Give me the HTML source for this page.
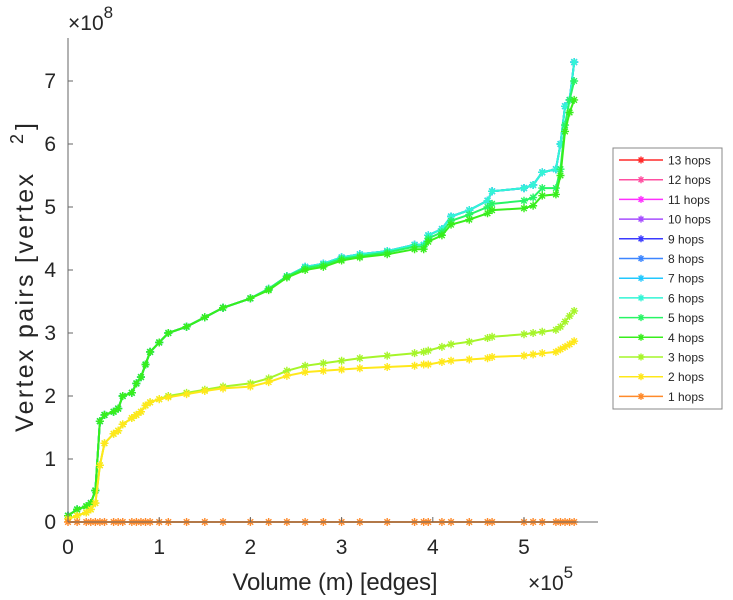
<!DOCTYPE html>
<html><head><meta charset="utf-8"><style>
html,body{margin:0;padding:0;background:#fff;}
svg{display:block;font-family:"Liberation Sans",sans-serif;}
</style></head><body>
<svg id="chart" width="733" height="600">
  <g id="plot"></g>
  <g id="axes"></g>
  <g id="legend"></g>
</svg>
<script>
const xs = [0,0.1,0.2,0.25,0.3,0.35,0.4,0.5,0.55,0.6,0.7,0.75,0.8,0.85,0.9,1.0,1.1,1.3,1.5,1.7,2.0,2.2,2.4,2.6,2.8,3.0,3.2,3.5,3.8,3.9,3.95,4.1,4.2,4.4,4.6,4.65,5.0,5.1,5.2,5.35,5.4,5.45,5.5,5.55];
const hops9 = [0.1,0.2,0.25,0.3,0.5,1.6,1.7,1.75,1.8,2.0,2.05,2.2,2.3,2.5,2.7,2.85,3.0,3.1,3.25,3.4,3.55,3.7,3.9,4.05,4.1,4.2,4.25,4.3,4.4,4.4,4.55,4.65,4.85,4.95,5.1,5.25,5.3,5.35,5.55,5.6,6.0,6.6,6.7,7.3];
const hops5 = [0.1,0.2,0.25,0.3,0.5,1.6,1.7,1.75,1.8,2.0,2.05,2.2,2.3,2.5,2.7,2.85,3.0,3.1,3.25,3.4,3.55,3.7,3.9,4.03,4.08,4.18,4.22,4.28,4.37,4.37,4.5,4.6,4.78,4.88,5.0,5.05,5.1,5.15,5.3,5.3,5.6,6.3,6.7,7.0];
const hops4 = [0.1,0.2,0.25,0.3,0.5,1.6,1.7,1.75,1.8,2.0,2.05,2.2,2.3,2.5,2.7,2.85,3.0,3.1,3.25,3.4,3.55,3.68,3.88,4.0,4.05,4.15,4.2,4.25,4.33,4.33,4.45,4.55,4.72,4.8,4.9,4.95,4.98,5.02,5.18,5.2,5.5,6.2,6.5,6.7];
const hops3 = [0.05,0.1,0.15,0.2,0.3,0.9,1.25,1.4,1.45,1.55,1.65,1.7,1.75,1.85,1.9,1.95,2.0,2.05,2.1,2.15,2.2,2.28,2.4,2.48,2.52,2.56,2.6,2.64,2.68,2.7,2.72,2.78,2.82,2.86,2.92,2.94,2.98,3.0,3.02,3.05,3.1,3.18,3.27,3.35];
const hops2 = [0.05,0.1,0.15,0.2,0.3,0.9,1.25,1.4,1.45,1.55,1.65,1.7,1.75,1.85,1.9,1.95,1.98,2.03,2.08,2.12,2.15,2.22,2.32,2.38,2.4,2.42,2.44,2.46,2.48,2.5,2.5,2.54,2.56,2.58,2.6,2.62,2.64,2.66,2.68,2.7,2.74,2.78,2.82,2.87];
const hops1 = xs.map(()=>0);
const seriesNames = ["13 hops","12 hops","11 hops","10 hops","9 hops","8 hops","7 hops","6 hops","5 hops","4 hops","3 hops","2 hops","1 hops"];
const seriesColors = ["#ff2a2a","#ff4fa0","#ff30ff","#a64dff","#3a3aff","#3d86ff","#22c8ff","#33f5d5","#28f565","#38ee1c","#a6f52a","#ffe81a","#ff8a2a"];
const seriesValues = [[],[],[],[],hops9,hops9,hops9,hops9,hops5,hops4,hops3,hops2,hops1];
const xTicks = [0,1,2,3,4,5];
const yTicks = [0,1,2,3,4,5,6,7];

const NS="http://www.w3.org/2000/svg";
const L=68,R=598,T=38,B=522;
const xScale=v=>L+v*91.2;
const yScale=v=>B-v*63;
function mk(tag,attrs,parent){const e=document.createElementNS(NS,tag);for(const k in attrs)e.setAttribute(k,attrs[k]);parent.appendChild(e);return e;}
function star(g,x,y,c,s){
  return mk('path',{d:`M${x-s},${y}H${x+s}M${x},${y-s}V${y+s}M${x-s*0.7},${y-s*0.7}L${x+s*0.7},${y+s*0.7}M${x-s*0.7},${y+s*0.7}L${x+s*0.7},${y-s*0.7}`,stroke:c,'stroke-width':1.4,fill:'none'},g);
}
const plot=document.getElementById('plot');
for(let i=4;i<seriesNames.length;i++){
  const vals=seriesValues[i]; if(!vals.length) continue;
  const g=mk('g',{},plot);
  
  
  const d=vals.map((v,j)=>(j?'L':'M')+xScale(xs[j]).toFixed(1)+','+yScale(v).toFixed(1)).join('');
  mk('path',{d:d,stroke:seriesColors[i],'stroke-width':2,fill:'none'},g);
  vals.forEach((v,j)=>star(g,xScale(xs[j]),yScale(v),seriesColors[i],4));
}
const axes=document.getElementById('axes');
mk('line',{x1:L,y1:T,x2:L,y2:B,stroke:'#666','stroke-width':1},axes);
mk('line',{x1:L,y1:B,x2:R,y2:B,stroke:'#666','stroke-width':1},axes);
xTicks.forEach(t=>{
  const x=xScale(t);
  mk('line',{x1:x,y1:B,x2:x,y2:B-5,stroke:'#666'},axes);
  const tx=mk('text',{x:x,y:B+32,'font-size':21,'text-anchor':'middle',fill:'#262626'},axes);
  tx.textContent=t;
  
  
});
yTicks.forEach(t=>{
  const y=yScale(t);
  mk('line',{x1:L,y1:y,x2:L+5,y2:y,stroke:'#666'},axes);
  const tx=mk('text',{x:L-12,y:y+7,'font-size':21,'text-anchor':'end',fill:'#262626'},axes);
  tx.textContent=t;
  
  
});
const leg=document.getElementById('legend');
mk('rect',{x:613,y:148,width:109,height:261,fill:'#fff',stroke:'#888','stroke-width':1},leg);
seriesNames.forEach((n,i)=>{
  const y=160+i*19.7;
  const g=mk('g',{},leg);
  
  
  mk('line',{x1:619,y1:y,x2:663,y2:y,stroke:seriesColors[i],'stroke-width':1.5},g);
  star(g,641,y,seriesColors[i],3.5);
  const t=mk('text',{x:668,y:y+4.5,'font-size':12,fill:'#262626'},g);
  t.textContent=n;
});
</script>
<svg style="position:absolute;left:0;top:0" width="733" height="600">
  <text x="68" y="30" font-family="Liberation Sans, sans-serif" font-size="21" fill="#262626">×10<tspan dy="-12" font-size="17">8</tspan></text>
  <text x="528" y="590" font-family="Liberation Sans, sans-serif" font-size="21" fill="#262626">×10<tspan dy="-12" font-size="17">5</tspan></text>
  <text x="335" y="590" text-anchor="middle" font-family="Liberation Sans, sans-serif" font-size="24" textLength="205" fill="#262626">Volume (m) [edges]</text>
  <text transform="translate(33,432) rotate(-90)" font-family="Liberation Sans, sans-serif" font-size="25" textLength="258" lengthAdjust="spacing" fill="#262626">Vertex pairs [vertex</text>
  <text transform="translate(23,144) rotate(-90)" font-family="Liberation Sans, sans-serif" font-size="18" fill="#262626">2</text>
  <text transform="translate(33,130) rotate(-90)" font-family="Liberation Sans, sans-serif" font-size="25" fill="#262626">]</text>
</svg>
</body></html>
